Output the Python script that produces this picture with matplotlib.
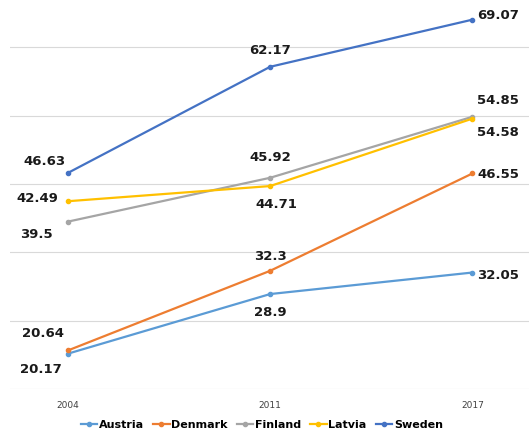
import matplotlib.pyplot as plt

years = ["2004", "2011", "2017"]
austria = [20.17, 28.9, 32.05]
denmark = [20.64, 32.3, 46.55]
finland = [39.5, 45.92, 54.85]
latvia = [42.49, 44.71, 54.58]
sweden = [46.63, 62.17, 69.07]

names = ["Austria", "Denmark", "Finland", "Latvia", "Sweden"]
series = [austria, denmark, finland, latvia, sweden]
colors = ["#5B9BD5", "#ED7D31", "#A5A5A5", "#FFC000", "#4472C4"]

# label offsets in pixels for each point (dx, dy)
offsets = {
    "Austria": [(-27, -16), (0, -18), (26, -3)],
    "Denmark": [(-25, 17), (0, 14), (26, -1)],
    "Finland": [(-31, -13), (0, 20), (26, 16)],
    "Latvia": [(-30, 3), (6, -18), (26, -14)],
    "Sweden": [(-23, 11), (0, 16), (26, 4)],
}

fig = plt.figure(figsize=(5.29, 4.32), dpi=100)
ax = fig.add_axes([10 / 529, 1 - 389 / 432, 1 - 10 / 529, 389 / 432])

x = list(range(len(years)))
for name, vals, c in zip(names, series, colors):
    ax.plot(x, vals, color=c, lw=1.6, marker="o", markersize=3, label=name)
    for xi, v, (dx, dy) in zip(x, vals, offsets[name]):
        ax.annotate(f"{v:g}", (xi, v), xytext=(dx, dy), textcoords="offset pixels",
                    ha="center", va="center", fontsize=9.5, fontweight="bold",
                    color="#1a1a1a")

ax.set_xlim(-0.286, 2.28)
ax.set_ylim(15, 71.95)
ax.set_yticks([15, 25, 35, 45, 55, 65])
ax.yaxis.grid(True, color="#D9D9D9", lw=0.8)
ax.set_axisbelow(True)
ax.set_yticklabels([])
ax.tick_params(left=False, bottom=False)
ax.set_xticks(x)
ax.set_xticklabels(years, fontsize=6.5, color="#404040")
ax.tick_params(axis="x", pad=5)
for s in ax.spines.values():
    s.set_visible(False)

fig.legend(loc="center", bbox_to_anchor=(0.495, 0.016), ncol=5, frameon=False,
           handlelength=1.5, columnspacing=0.8, handletextpad=0.15,
           prop={"size": 8, "weight": "bold"})

fig.savefig("out.png", dpi=100)
